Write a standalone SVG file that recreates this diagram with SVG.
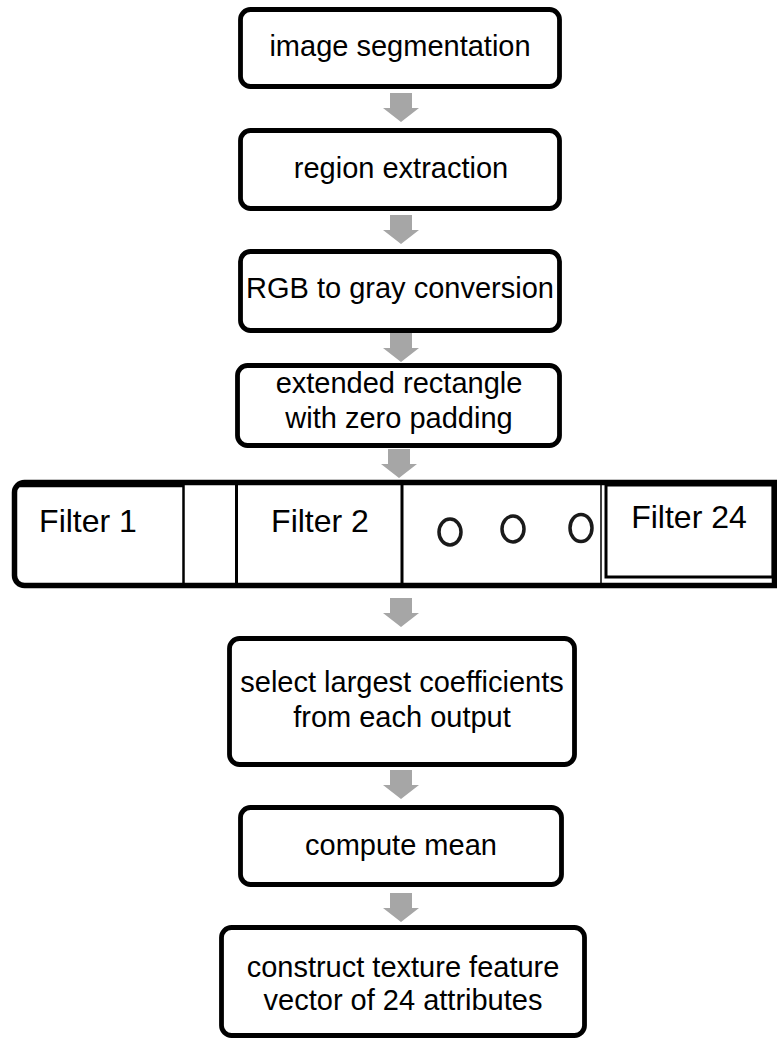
<svg xmlns="http://www.w3.org/2000/svg" width="777" height="1042" viewBox="0 0 777 1042">
<style>
.box{fill:#fff;stroke:#000;stroke-width:4.8}
.t{font-family:"Liberation Sans",Arial,sans-serif;font-size:29px;fill:#000;text-anchor:middle}
.ft{font-family:"Liberation Sans",Arial,sans-serif;font-size:32px;fill:#000;text-anchor:middle}
.arr{fill:#a6a6a6}
.ln{fill:none;stroke:#000}
.dot{fill:none;stroke:#1a1a1a;stroke-width:3.5}
</style>
<defs>
<path id="arrow" d="M-11 0 H11 V15 H18 L0 29 L-18 15 H-11 Z"/>
</defs>
<rect width="777" height="1042" fill="#fff"/>
<g id="connectors">
<use href="#arrow" class="arr" x="401" y="93"/>
<use href="#arrow" class="arr" x="401" y="215"/>
<use href="#arrow" class="arr" x="401" y="333"/>
<use href="#arrow" class="arr" x="399" y="449"/>
<use href="#arrow" class="arr" x="401" y="598"/>
<use href="#arrow" class="arr" x="401" y="770"/>
<use href="#arrow" class="arr" x="401" y="893"/>
</g>
<g id="n1"><rect class="box" x="240.5" y="9.5" width="319" height="77" rx="10"/><text class="t" x="400" y="56">image segmentation</text></g>
<g id="n2"><rect class="box" x="240.5" y="130.5" width="319" height="78" rx="10"/><text class="t" x="401" y="178">region extraction</text></g>
<g id="n3"><rect class="box" x="240.5" y="251.5" width="319" height="79" rx="10"/><text class="t" x="400" y="298">RGB to gray conversion</text></g>
<g id="n4"><rect class="box" x="237.5" y="365.5" width="322" height="80" rx="10"/><text class="t" x="399" y="393">extended rectangle</text><text class="t" x="399" y="428">with zero padding</text></g>
<g id="filters">
<path class="ln" stroke-width="5.5" d="M774.5 482.5 H24.5 A10 10 0 0 0 14.5 492.5 V575.5 A10 10 0 0 0 24.5 585.5 H774.5 Z"/>
<path class="ln" stroke-width="2.5" d="M17 486 H183.5 V583"/>
<path class="ln" stroke-width="3" d="M236.5 485 V583 M402 485 V583"/>
<path class="ln" stroke-width="1.5" d="M601 485 V583"/>
<rect class="ln" stroke-width="3" x="606" y="485" width="167" height="92"/>
<text class="ft" x="88" y="532">Filter 1</text>
<text class="ft" x="320" y="532">Filter 2</text>
<text class="ft" x="689" y="528">Filter 24</text>
<ellipse class="dot" cx="450" cy="532" rx="11" ry="13"/>
<ellipse class="dot" cx="513" cy="529" rx="11" ry="13"/>
<ellipse class="dot" cx="581" cy="528" rx="11" ry="13.5"/>
</g>
<g id="n5"><rect class="box" x="229.5" y="638.5" width="345" height="126" rx="10"/><text class="t" x="402" y="692">select largest coefficients</text><text class="t" x="402" y="727">from each output</text></g>
<g id="n6"><rect class="box" x="240.5" y="807.5" width="321" height="77" rx="10"/><text class="t" x="401" y="855">compute mean</text></g>
<g id="n7"><rect class="box" x="221.5" y="927.5" width="363" height="108" rx="10"/><text class="t" x="403" y="977">construct texture feature</text><text class="t" x="403" y="1010">vector of 24 attributes</text></g>
</svg>
